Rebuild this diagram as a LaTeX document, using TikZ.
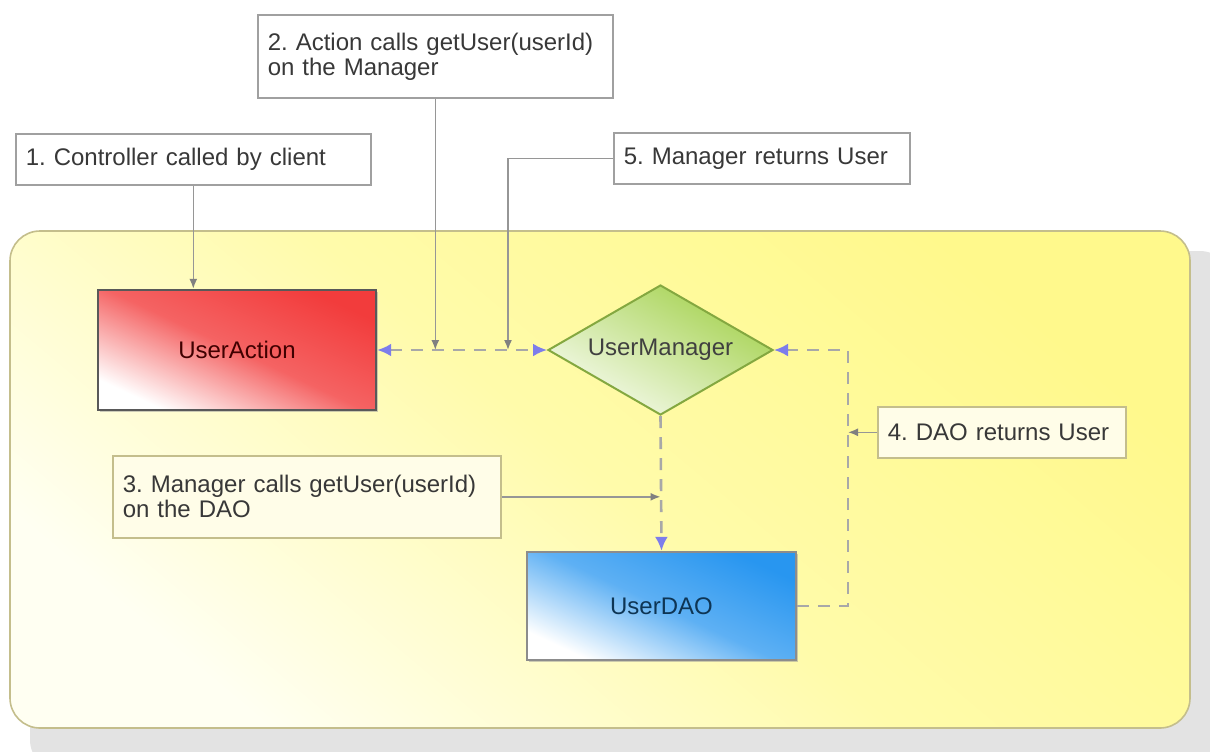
\documentclass[tikz,border=0pt]{standalone}
\usepackage{fontspec}
\setmainfont{Liberation Sans}
\usetikzlibrary{arrows.meta,shapes.geometric,shadows}
\definecolor{frameyel}{RGB}{255,249,140}
\definecolor{framelight}{RGB}{255,255,242}
\definecolor{frameline}{RGB}{196,190,140}
\definecolor{noteline}{RGB}{160,160,160}
\definecolor{notefill}{RGB}{255,253,232}
\definecolor{connline}{RGB}{150,150,150}
\definecolor{dashline}{RGB}{168,168,168}
\definecolor{tipblue}{RGB}{125,125,235}
\definecolor{actred}{RGB}{242,60,60}
\definecolor{mgrgreen}{RGB}{165,210,80}
\definecolor{daoblue}{RGB}{40,150,240}

\begin{document}
\begin{tikzpicture}[x=0.5pt, y=-0.5pt,
  font=\fontsize{12}{12.5}\selectfont\frenchspacing,
  note/.style={draw=noteline, line width=0.8pt, fill=white, align=left, inner xsep=5pt, inner ysep=2pt, anchor=north west, text=black!78},
  inner note/.style={note, draw=frameline, fill=notefill},
  block/.style={rectangle, line width=1.2pt, drop shadow={shadow xshift=1pt, shadow yshift=-1pt, fill=black!40}},
  conn/.style={draw=connline, line width=0.8pt, -{Latex[length=5pt,width=4pt,color=black!50]}},
  flow/.style={draw=dashline, line width=1.3pt, dash pattern=on 6pt off 4.5pt, >={Latex[length=7pt,width=6.5pt,color=tipblue]}}
]
\useasboundingbox (0,0) rectangle (1210,751);
% frame with its shadow
\fill[black!11, rounded corners=15pt] (30,251) rectangle (1230,770);
\draw[frameline, line width=0.8pt, rounded corners=15pt, top color=frameyel, bottom color=framelight, middle color=frameyel!70!framelight, shading angle=-40] (10,231) rectangle (1190,728);

% notes
\node[note, text width=167.5pt, minimum height=25.5pt] (n1) at (15,133) {1. Controller called by client};
\node[note, text width=167.5pt, minimum height=41.5pt] (n2) at (257,14) {2. Action calls getUser(userId)\\on the Manager};
\node[note, text width=138pt, minimum height=25.5pt] (n5) at (613,132) {5. Manager returns User};
\node[inner note, text width=184pt, minimum height=41pt] (n3) at (112,455) {3. Manager calls getUser(userId)\\on the DAO};
\node[inner note, text width=114pt, minimum height=25.5pt] (n4) at (877,406) {4. DAO returns User};

% blocks
\node[block, draw=black!65, top color=actred, bottom color=white, middle color=actred!80!white, shading angle=-25, minimum width=139pt, minimum height=60pt, text=red!25!black] (ua) at (237,350) {UserAction};
\node[diamond, draw=mgrgreen!80!black, line width=1pt, aspect=1.73, inner sep=0pt, minimum width=112.5pt, minimum height=65pt, top color=mgrgreen, bottom color=mgrgreen!10!white, shading angle=-30, text=black!75] (um) at (660.5,350) {UserManager};
\node[block, draw=black!45, top color=daoblue, bottom color=white, middle color=daoblue!75!white, shading angle=-25, minimum width=134.5pt, minimum height=54pt, text=daoblue!35!black] (dao) at (661.5,606) {UserDAO};

\coordinate (j5) at (508,350);
\coordinate (j4) at (848,350);
\coordinate (k4) at (848,606);

% calls and returns
\draw[flow, <->] (ua.east) -- (um.west);
\draw[flow, ->] (um.south) -- (dao.north);
\draw[flow, ->] (dao.east) -- (k4) -- (j4) -- (um.east);

% note pointers
\draw[conn] (n1.south) -- (n1.south |- ua.north);
\draw[conn] (n2.south) -- (n2.south |- ua.east);
\draw[conn] (n5.west) -| (j5);
\draw[conn] (n3.east) -- (n3.east -| um.south);
\draw[conn] (n4.west) -- (n4.west -| j4);
\end{tikzpicture}
\end{document}
